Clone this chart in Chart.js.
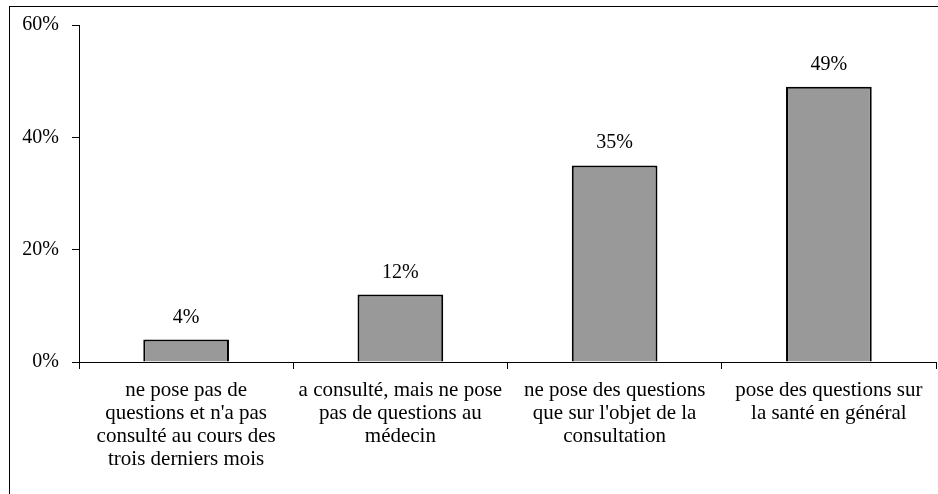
<!DOCTYPE html>
<html><head><meta charset="utf-8">
<script src="https://cdn.jsdelivr.net/npm/chart.js@4/dist/chart.umd.min.js"></script>
<style>html,body{margin:0;padding:0;background:#fff}#wrap{width:938px;height:494px}</style>
</head><body><div id="wrap"><canvas id="c" width="938" height="494"></canvas></div>
<script>
const categories = [
  ["ne pose pas de","questions et n'a pas","consulté au cours des","trois derniers mois"],
  ["a consulté, mais ne pose","pas de questions au","médecin"],
  ["ne pose des questions","que sur l'objet de la","consultation"],
  ["pose des questions sur","la santé en général"]
];
const values = [4, 12, 35, 49];
const yTicks = [0, 20, 40, 60];

const FONT = "'Liberation Serif', 'Times New Roman', serif";

const frame = {
  id: 'frame',
  beforeDraw(chart) {
    const ctx = chart.ctx;
    ctx.save();
    ctx.fillStyle = '#fff';
    ctx.fillRect(0, 0, chart.width, chart.height);
    ctx.strokeStyle = '#000';
    ctx.lineWidth = 1;
    ctx.strokeRect(9.5, 6.5, 1200, 1200);
    ctx.restore();
  },
  afterDatasetsDraw(chart) {
    const ctx = chart.ctx;
    const meta = chart.getDatasetMeta(0);
    ctx.save();
    ctx.fillStyle = '#000';
    ctx.font = "20px " + FONT;
    ctx.textAlign = 'center';
    ctx.textBaseline = 'alphabetic';
    meta.data.forEach((el, i) => {
      ctx.fillText(values[i] + '%', el.x, el.y - 17);
    });
    ctx.restore();
  }
};

new Chart(document.getElementById('c'), {
  type: 'bar',
  data: {
    labels: categories,
    datasets: [{
      data: values,
      backgroundColor: '#999999',
      borderColor: '#000000',
      borderWidth: 2,
      barPercentage: 1,
      categoryPercentage: 0.4
    }]
  },
  options: {
    responsive: false,
    animation: false,
    devicePixelRatio: 1,
    layout: { padding: { top: 25, right: 2, left: 0, bottom: 0 } },
    plugins: { legend: { display: false }, tooltip: { enabled: false } },
    scales: {
      x: {
        grid: { display: true, drawOnChartArea: false, drawTicks: true, tickLength: 7, color: '#000', offset: true },
        border: { display: true, color: '#000', width: 1 },
        ticks: { color: '#000', font: { family: FONT, size: 21, lineHeight: 23/21 }, padding: 10, maxRotation: 0, autoSkip: false },
        afterFit(s) { s.height = 132; }
      },
      y: {
        min: 0, max: 60,
        afterBuildTicks(s) { s.ticks = yTicks.map(v => ({ value: v })); },
        grid: { display: true, drawOnChartArea: false, drawTicks: true, tickLength: 7, color: '#000' },
        border: { display: true, color: '#000', width: 1 },
        ticks: { color: '#000', font: { family: FONT, size: 20 }, padding: 13, callback: v => v + '%' },
        afterFit(s) { s.width = 79; }
      }
    }
  },
  plugins: [frame]
});
</script>
</body></html>
